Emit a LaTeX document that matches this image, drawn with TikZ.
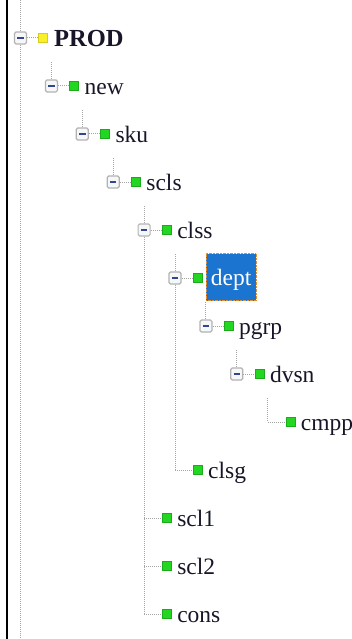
\documentclass[tikz,border=0pt]{standalone}
\usepackage{fontspec}
\setmainfont{Liberation Serif}
\usepackage{xcolor}
\definecolor{selblue}{RGB}{27,116,208}
\definecolor{leafgreen}{RGB}{34,214,34}
\definecolor{rootyellow}{RGB}{250,240,40}
\definecolor{inkdark}{RGB}{22,22,40}
\definecolor{focusorange}{RGB}{225,140,50}
\definecolor{minusblue}{RGB}{45,70,150}

\begin{document}
\begin{tikzpicture}[x=1pt,y=-1pt,
  tree/.style={gray!70,densely dotted,line width=1pt},
  expbox/.style={draw=gray!60,fill=gray!6,line width=1.2pt,rounded corners=1.5pt,
    minimum size=12pt,inner sep=0pt,
    path picture={\draw[minusblue,line width=1.4pt]
      ([xshift=-3.2pt]path picture bounding box.center) --
      ([xshift=3.2pt]path picture bounding box.center);}},
  icon/.style={fill=leafgreen,draw=leafgreen!80!black,line width=0.4pt,
    minimum size=9pt,inner sep=0pt},
  rooticon/.style={icon,fill=rootyellow,draw=rootyellow!85!black},
  itemtext/.style={anchor=base west,inner sep=0pt,text=inkdark,
    font=\fontsize{23.5}{24}\selectfont},
  selected/.style={anchor=west,fill=selblue,draw=focusorange,densely dotted,
    text=white,inner sep=0pt,minimum width=50pt,minimum height=47pt,
    text height=20pt,text depth=3pt,font=\fontsize{23.5}{24}\selectfont},
]
\useasboundingbox (0,0) rectangle (352,639);

% left frame edge
\draw[line width=2pt] (7,0) -- (7,639);

% PROD (root)
\coordinate (rootTop) at (20.5,0);
\coordinate (rootBot) at (20.5,639);
\node[expbox] (bPROD) at (20.5,38) {};
\node[rooticon] (iPROD) at (43,38) {};
\node[itemtext,font=\fontsize{24.5}{25}\selectfont\bfseries] (tPROD) at (54,46.5) {PROD};
\draw[tree] (rootTop) -- (bPROD) (bPROD) -- (rootBot) (bPROD) -- (iPROD);

% new
\coordinate (new-up) at (51.4,62);
\node[expbox] (bnew) at (51.4,86) {};
\node[icon] (inew) at (73.9,86) {};
\node[itemtext] (tnew) at (84.4,94.5) {new};
\draw[tree] (new-up) -- (bnew) (bnew) -- (inew);

% sku
\coordinate (sku-up) at (82.3,110);
\node[expbox] (bsku) at (82.3,134) {};
\node[icon] (isku) at (104.8,134) {};
\node[itemtext] (tsku) at (115.3,142.5) {sku};
\draw[tree] (sku-up) -- (bsku) (bsku) -- (isku);

% scls
\coordinate (scls-up) at (113.2,158);
\node[expbox] (bscls) at (113.2,182) {};
\node[icon] (iscls) at (135.7,182) {};
\node[itemtext] (tscls) at (146.2,190.5) {scls};
\draw[tree] (scls-up) -- (bscls) (bscls) -- (iscls);

% clss and its siblings
\coordinate (clss-up) at (144.1,206);
\coordinate (clss-end) at (144.1,614);
\node[expbox] (bclss) at (144.1,230) {};
\node[icon] (iclss) at (166.6,230) {};
\node[itemtext] (tclss) at (177.1,238.5) {clss};
\draw[tree] (clss-up) -- (bclss) (bclss) -- (clss-end) (bclss) -- (iclss);

% dept (selected)
\coordinate (dept-up) at (175,254);
\coordinate (clsg-j) at (175,470);
\node[expbox] (bdept) at (175,278) {};
\node[icon] (idept) at (197.5,278) {};
\node[selected] (tdept) at (206,277) {dept};
\draw[tree] (dept-up) -- (bdept) (bdept) -- (clsg-j) (bdept) -- (idept);

% pgrp
\coordinate (pgrp-up) at (205.9,302);
\node[expbox] (bpgrp) at (205.9,326) {};
\node[icon] (ipgrp) at (228.4,326) {};
\node[itemtext] (tpgrp) at (238.9,334.5) {pgrp};
\draw[tree] (pgrp-up) -- (bpgrp) (bpgrp) -- (ipgrp);

% dvsn
\coordinate (dvsn-up) at (236.8,350);
\node[expbox] (bdvsn) at (236.8,374) {};
\node[icon] (idvsn) at (259.3,374) {};
\node[itemtext] (tdvsn) at (269.8,382.5) {dvsn};
\draw[tree] (dvsn-up) -- (bdvsn) (bdvsn) -- (idvsn);

% cmpp (leaf)
\coordinate (cmpp-up) at (267.7,398);
\coordinate (cmpp-j) at (267.7,422);
\node[icon] (icmpp) at (290.2,422) {};
\node[itemtext] (tcmpp) at (300.7,430.5) {cmpp};
\draw[tree] (cmpp-up) -- (cmpp-j) -- (icmpp);

% clsg (leaf)
\node[icon] (iclsg) at (197.5,470) {};
\node[itemtext] (tclsg) at (208,478.5) {clsg};
\draw[tree] (clsg-j) -- (iclsg);

% scl1, scl2, cons (leaves)
\coordinate (scl1-j) at (144.1,518);
\coordinate (scl2-j) at (144.1,566);
\node[icon] (iscl1) at (166.6,518) {};
\node[itemtext] (tscl1) at (177.1,526.5) {scl1};
\node[icon] (iscl2) at (166.6,566) {};
\node[itemtext] (tscl2) at (177.1,574.5) {scl2};
\node[icon] (icons) at (166.6,614) {};
\node[itemtext] (tcons) at (177.1,622.5) {cons};
\draw[tree] (scl1-j) -- (iscl1) (scl2-j) -- (iscl2) (clss-end) -- (icons);
\end{tikzpicture}
\end{document}
